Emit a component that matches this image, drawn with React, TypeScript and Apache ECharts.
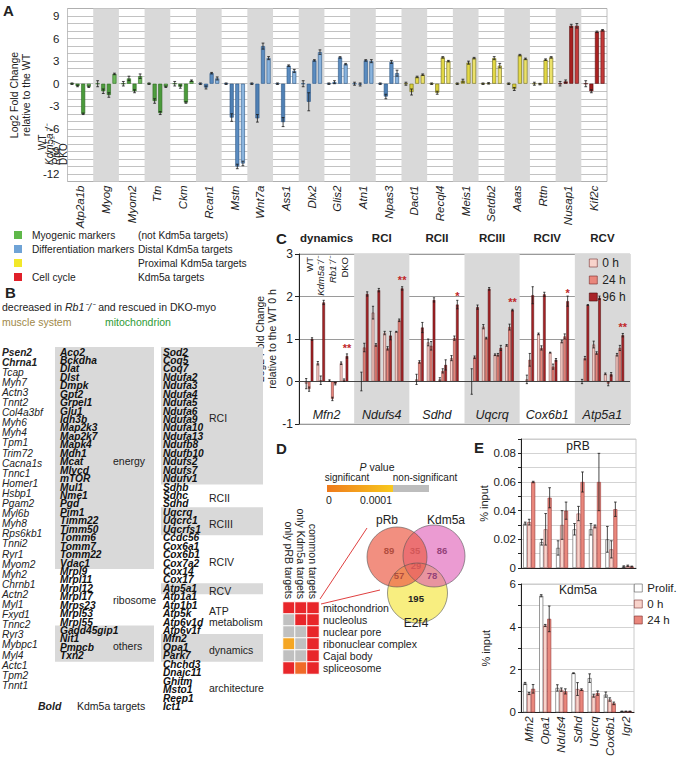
import React, { useEffect, useRef } from 'react';
import * as echarts from 'echarts';

const FONT = '"Liberation Sans", Arial, Helvetica, sans-serif';

// ===== Panel A =====
const genesA = ['Atp2a1b','Myog','Myom2','Ttn','Ckm','Rcan1','Mstn','Wnt7a','Ass1','Dlx2','Glis2','Atn1','Npas3','Dact1','Recql4','Meis1','Setdb2','Aaas','Rttn','Nusap1','Kif2c'];
const markerGroupA = [0,0,0,0,0,1,1,1,1,1,1,1,1,2,2,2,2,2,2,3,3];
const genotypes = ['WT','Kdm5a⁻/⁻','Rb1⁻/⁻','DKO'];
const aWT =    [0,0,0,0,0,0,0,0,0,0,0,0,0,0,0,0,0,0,0,0,0];
const aKdm5a = [-0.3,-1.0,0.7,-2.3,-0.4,-0.5,-4.5,-4.6,-5.1,-2.4,0.2,-0.1,-1.7,-1.1,-1.2,0.4,0.05,-0.7,-0.05,0.3,-1.0];
const aRb1 =   [-4.0,-1.5,-1.0,-3.9,-2.5,1.4,-11.0,5.0,2.4,3.1,3.5,3.1,2.9,0.9,3.5,2.8,3.4,3.8,3.2,7.7,6.9];
const aDKO =   [-0.4,1.3,1.0,-0.4,0.4,0.7,-10.6,3.4,1.7,4.2,2.6,3.0,1.4,1.2,3.0,3.4,2.4,3.3,3.5,7.7,7.1];
const aWTErr =    [0.1,0.4,0.3,0.1,0.3,0.1,0.1,0.1,0.1,0.4,0.1,0.2,0.1,0.2,0.1,0.1,0.1,0.1,0.2,0.3,0.4];
const aKdm5aErr = [0.1,0.3,0.3,0.3,0.2,0.2,0.5,0.5,0.6,1.2,0.2,0.2,0.3,0.4,0.2,0.2,0.1,0.2,0.1,0.2,0.2];
const aRb1Err =   [0.1,0.3,0.2,0.2,0.1,0.1,0.3,0.4,0.1,0.1,0.1,0.1,0.2,0.1,0.1,0.2,0.2,0.1,0.1,0.2,0.1];
const aDKOErr =   [0.1,0.1,0.3,0.1,0.1,0.2,0.3,0.2,0.2,0.3,0.1,0.2,0.4,0.1,0.1,0.1,0.3,0.1,0.1,0.3,0.1];
const legendAMarkers = ['Myogenic markers','Differentiation markers','','Cell cycle'];
const legendATargets = ['(not Kdm5a targets)','Distal Kdm5a targets','Proximal Kdm5a targets','Kdm5a targets'];

// ===== Panel B =====
const muscleGenes = ['Psen2','Chrna1','Tcap','Myh7','Actn3','Tnnt2','Col4a3bf','Myh6','Myh4','Tpm1','Trim72','Cacna1s','Tnnc1','Homer1','Hsbp1','Pgam2','Myl6b','Myh8','Rps6kb1','Tnni2','Ryr1','Myom2','Myh2','Chrnb1','Actn2','Myl1','Fxyd1','Tnnc2','Ryr3','Mybpc1','Myl4','Actc1','Tpm2','Tnnt1'];
const muscleBoldCount = 2;
const mitoCol2Groups = [
  { label: 'energy', genes: ['Aco2','Bckdha','Dlat','Dlst','Dmpk','Gpt2','Grpel1','Glu1','Idh3b','Map2k3','Map2k7','Mapk4','Mdh1','Mcat','Mlycd','mTOR','Mul1','Nme1','Pgd','Pim1','Timm22','Timm50','Tomm6','Tomm7','Tomm22','Vdac1'] },
  { label: 'ribosome', genes: ['Mrpl9','Mrpl11','Mrpl12','Mrpl17','Mrps23','Mrpl53','Mrpl55'] },
  { label: 'others', genes: ['Gadd45gip1','Nit1','Pmpcb','Txn2'] },
];
const mitoCol3Groups = [
  { label: 'RCI', genes: ['Sod2','Coq5','Coq7','Ndufa2','Ndufa3','Ndufa4','Ndufa5','Ndufa6','Ndufa9','Ndufa10','Ndufa13','Ndufb8','Ndufb10','Ndufs2','Ndufs7','Ndufv1'] },
  { label: 'RCII', genes: ['Sdhb','Sdhc','Sdhd'] },
  { label: 'RCIII', genes: ['Uqcrq','Uqcrc1','Uqcrfs1'] },
  { label: 'RCIV', genes: ['Ccdc56','Cox6a1','Cox6b1','Cox7a2','Cox14','Cox17'] },
  { label: 'RCV', genes: ['Atp5a1'] },
  { label: 'ATP\nmetabolism', genes: ['Atp1a1','Atp1b1','Atp5k','Atp6v1d','Atp6v1f'] },
  { label: 'dynamics', genes: ['Mfn2','Opa1','Park7'] },
  { label: 'architecture', genes: ['Chchd3','Dnajc11','Ghitm','Msto1','Reep1','Ict1'] },
];

// ===== Panel C =====
const genesC = ['Mfn2','Ndufs4','Sdhd','Uqcrq','Cox6b1','Atp5a1'];
const groupsC = ['dynamics','RCI','RCII','RCIII','RCIV','RCV'];
const timesC = ['0 h','24 h','96 h'];
const cWT_0h   = [-0.05,0.0,0.05,0.0,0.05,0.0];
const cWT_24h  = [-0.18,0.8,0.46,0.57,0.51,0.55];
const cWT_96h  = [1.0,2.06,1.27,1.75,2.03,1.8];
const cKdm_0h  = [0.43,1.62,0.92,1.29,1.12,0.87];
const cKdm_24h = [0.03,0.86,0.84,1.02,0.79,0.67];
const cKdm_96h = [1.86,2.15,1.92,2.18,2.05,1.97];
const cRb_0h   = [0.02,1.14,0.05,0.63,0.68,0.18];
const cRb_24h  = [-0.41,0.78,0.25,0.63,0.35,-0.05];
const cRb_96h  = [-0.05,1.08,0.39,0.79,0.51,0.17];
const cDKO_0h  = [0.43,1.17,0.55,0.85,0.94,0.63];
const cDKO_24h = [0.03,1.44,1.02,1.28,1.06,0.79];
const cDKO_96h = [0.6,2.19,1.81,1.68,1.89,1.09];
const cWT_0hErr   = [0.12,0.22,0.12,0.3,0.1,0.05];
const cWT_24hErr  = [0.05,0.1,0.03,0.03,0.15,0.04];
const cWT_96hErr  = [0.03,0.05,0.12,0.05,0.2,0.01];
const cKdm_0hErr  = [0.04,0.15,0.08,0.05,0.02,0.08];
const cKdm_24hErr = [0.1,0.03,0.1,0.02,0.05,0.03];
const cKdm_96hErr = [0.05,0.04,0.05,0.03,0.05,0.04];
const cRb_0hErr   = [0.02,0.04,0.04,0.02,0.01,0.02];
const cRb_24hErr  = [0.04,0.04,0.05,0.03,0.06,0.05];
const cRb_96hErr  = [0.03,0.1,0.12,0.06,0.03,0.04];
const cDKO_0hErr  = [0.03,0.01,0.06,0.02,0.03,0.03];
const cDKO_24hErr = [0.03,0.03,0.05,0.07,0.06,0.06];
const cDKO_96hErr = [0.05,0.04,0.1,0.02,0.12,0.04];
const starsC = ['**','**','*','**','*','**'];

// ===== Panel D =====
const heatCols = ['only pRB targets','only Kdm5a targets','common targets'];
const heatRows = ['mitochondrion','nucleolus','nuclear pore','ribonuclear complex','Cajal body','spliceosome'];
// significance level: 3 strongest (red) ... 1 near 0.0001 (orange-yellow), 0 non-significant (grey)
const heatOnlyPRB = [3,0,0,1,0,3];
const heatOnlyKdm5a = [3,3,0,0,0,2];
const heatCommon = [3,3,3,3,3,3];
const vennSets = ['pRb','Kdm5a','E2f4'];
// pRb only, Kdm5a only, E2f4 only, pRb&Kdm5a, pRb&E2f4, Kdm5a&E2f4, all three
const vennCounts = [89,86,195,35,57,78,29];

// ===== Panel E =====
const genesE = ['Mfn2','Opa1','Ndufs4','Sdhd','Uqcrq','Cox6b1','Igr2'];
const condE = ['Prolif.','0 h','24 h'];
const pRbProlif = [0.031,0.018,0.014,0.027,0.027,0.020,0.001];
const pRb0h     = [0.032,0.027,0.030,0.038,0.029,0.013,0.0015];
const pRb24h    = [0.060,0.049,0.040,0.060,0.060,0.041,0.001];
const pRbProlifErr = [0.001,0.002,0.005,0.004,0.004,0.009,0.0005];
const pRb0hErr     = [0.002,0.011,0.010,0.005,0.001,0.006,0.0005];
const pRb24hErr    = [0.0005,0.007,0.006,0.007,0.02,0.005,0.0003];
const kdmProlif = [1.35,5.45,1.14,1.83,1.6,0.83,0.05];
const kdm0h     = [0.88,4.06,1.06,1.09,0.78,0.6,0.05];
const kdm24h    = [1.1,4.37,0.98,1.06,0.9,0.42,0.05];
const kdmProlifErr = [0.05,0.05,0.15,0.02,0.2,0.12,0.01];
const kdm0hErr     = [0.05,0.05,0.08,0.3,0.07,0.08,0.01];
const kdm24hErr    = [0.2,0.6,0.12,0.04,0.1,0.06,0.01];

// ===== styles =====
const groupFillA = [
  ['#7cc46a','#4f9e3e','#4a9a3a','#6cb85a'],
  ['#8fb8e0','#4f80b4','#5b8cc0','#8ab4de'],
  ['#efe45a','#d9cf3a','#e2d845','#ece26a'],
  ['#c03030','#9e1c1c','#a82020','#c43a3a'],
];
const groupBorderA = ['#2d6a22','#2a5686','#6e6a1c','#5a0e0e'];
const legendColorsA = ['#5fb84a','#6fa3d6','#f2e82a','#e0202a'];
const cFill = ['#f8d3cb','#e9877c','#a82428'];
const cBorder = ['#7a3030','#7a2a2a','#4a0c0c'];
const eFill = ['#ffffff','#f8d3cb','#e9877c'];
const eBorder = ['#555555','#a05050','#9a3a3a'];

function errorSeries(xAxisIndex: number, yAxisIndex: number, items: number[][], step: number, nSlots: number, cap: number) {
  return {
    type: 'custom', xAxisIndex, yAxisIndex, silent: true, z: 5,
    data: items,
    encode: { x: 0, y: 2 },
    renderItem: (_p: any, api: any) => {
      const cat = api.value(0) as number;
      const slot = api.value(1) as number;
      const v = api.value(2) as number;
      const e = api.value(3) as number;
      const base = api.coord([cat, v]);
      const x = base[0] + (slot - (nSlots - 1) / 2) * step;
      const y1 = api.coord([cat, v + e])[1];
      const y2 = api.coord([cat, v - e])[1];
      const st = { stroke: '#1a1a1a', lineWidth: 0.8 };
      return {
        type: 'group',
        children: [
          { type: 'line', shape: { x1: x, y1, x2: x, y2 }, style: st },
          { type: 'line', shape: { x1: x - cap, y1, x2: x + cap, y2: y1 }, style: st },
          { type: 'line', shape: { x1: x - cap, y1: y2, x2: x + cap, y2 }, style: st },
        ],
      };
    },
  };
}

function T(x: number, y: number, text: string, o: any = {}) {
  return {
    type: 'text', x, y, rotation: o.rotation || 0, z: 100, silent: true,
    style: {
      text,
      fill: o.fill || '#222',
      fontSize: o.size || 10.5,
      fontStyle: o.italic ? 'italic' : 'normal',
      fontWeight: o.bold ? 'bold' : 'normal',
      fontFamily: FONT,
      textAlign: o.align || 'left',
      textVerticalAlign: o.valign || 'middle',
      align: o.align || 'left',
      verticalAlign: o.valign || 'middle',
      rich: o.rich,
      lineHeight: o.lineHeight,
    },
  };
}

function buildOption() {
  const series: any[] = [];
  const graphic: any[] = [];

  // ---------- Panel A ----------
  const aVals = [aWT, aKdm5a, aRb1, aDKO];
  const aErrs = [aWTErr, aKdm5aErr, aRb1Err, aDKOErr];
  aVals.forEach((vals, s) => {
    series.push({
      type: 'bar', name: 'A-' + genotypes[s], xAxisIndex: 0, yAxisIndex: 0,
      barWidth: 4, barGap: '40%',
      data: vals.map((v, i) => ({
        value: v,
        itemStyle: { color: groupFillA[markerGroupA[i]][s], borderColor: groupBorderA[markerGroupA[i]], borderWidth: 0.6 },
      })),
    });
  });
  const aErrItems: number[][] = [];
  aVals.forEach((vals, s) => vals.forEach((v, i) => aErrItems.push([i, s, v, aErrs[s][i]])));
  series.push(errorSeries(0, 0, aErrItems, 5.6, 4, 1.4));

  // ---------- Panel C ----------
  const cVals = [[cWT_0h, cWT_24h, cWT_96h], [cKdm_0h, cKdm_24h, cKdm_96h], [cRb_0h, cRb_24h, cRb_96h], [cDKO_0h, cDKO_24h, cDKO_96h]];
  const cErrs = [[cWT_0hErr, cWT_24hErr, cWT_96hErr], [cKdm_0hErr, cKdm_24hErr, cKdm_96hErr], [cRb_0hErr, cRb_24hErr, cRb_96hErr], [cDKO_0hErr, cDKO_24hErr, cDKO_96hErr]];
  const cErrItems: number[][] = [];
  cVals.forEach((gv, g) => {
    gv.forEach((vals, t) => {
      const s: any = {
        type: 'bar', name: timesC[t], xAxisIndex: 1, yAxisIndex: 1,
        barWidth: 2.6, barGap: '12%', data: vals,
        itemStyle: { color: cFill[t], borderColor: cBorder[t], borderWidth: 0.5 },
      };
      if (g === 0 && t === 0) {
        s.markLine = { silent: true, symbol: 'none', label: { show: false }, lineStyle: { color: '#444', width: 1.2, type: 'solid' }, data: [{ yAxis: 0 }] };
      }
      if (g === 3 && t === 2) {
        s.label = { show: true, position: 'top', distance: 3, formatter: (p: any) => starsC[p.dataIndex], color: '#c0282a', fontSize: 11, fontWeight: 'bold', fontFamily: FONT };
      }
      series.push(s);
      vals.forEach((v, i) => cErrItems.push([i, g * 4 + t, v, cErrs[g][t][i]]));
    });
    if (g < 3) {
      series.push({ type: 'bar', name: 'spacer' + g, xAxisIndex: 1, yAxisIndex: 1, barWidth: 2.6, barGap: '12%', silent: true, data: genesC.map(() => '-') });
    }
  });
  series.push(errorSeries(1, 1, cErrItems, 2.6 * 1.12, 15, 1.1));

  // ---------- Panel E ----------
  const eTop = [pRbProlif, pRb0h, pRb24h];
  const eTopErr = [pRbProlifErr, pRb0hErr, pRb24hErr];
  const eBot = [kdmProlif, kdm0h, kdm24h];
  const eBotErr = [kdmProlifErr, kdm0hErr, kdm24hErr];
  const eTopItems: number[][] = [];
  const eBotItems: number[][] = [];
  eTop.forEach((vals, s) => {
    series.push({ type: 'bar', name: condE[s], xAxisIndex: 3, yAxisIndex: 2, barWidth: 4, barGap: '0%', data: vals, itemStyle: { color: eFill[s], borderColor: eBorder[s], borderWidth: 0.6 } });
    vals.forEach((v, i) => eTopItems.push([i, s, v, eTopErr[s][i]]));
  });
  eBot.forEach((vals, s) => {
    series.push({ type: 'bar', name: condE[s], xAxisIndex: 4, yAxisIndex: 3, barWidth: 4, barGap: '0%', data: vals, itemStyle: { color: eFill[s], borderColor: eBorder[s], borderWidth: 0.6 } });
    vals.forEach((v, i) => eBotItems.push([i, s, v, eBotErr[s][i]]));
  });
  series.push(errorSeries(3, 2, eTopItems, 4, 3, 1.3));
  series.push(errorSeries(4, 3, eBotItems, 4, 3, 1.3));

  // ---------- Panel D heatmap ----------
  const heatCols3 = [heatOnlyPRB, heatOnlyKdm5a, heatCommon];
  const heatData: number[][] = [];
  heatCols3.forEach((col, c) => col.forEach((lv, r) => heatData.push([c, r, lv])));
  const heatIdx = series.length;
  series.push({ type: 'heatmap', xAxisIndex: 5, yAxisIndex: 4, data: heatData, itemStyle: { borderColor: '#ffffff', borderWidth: 1 }, silent: true });

  // ---------- Graphics ----------
  graphic.push(T(3, 10, 'A', { bold: true, size: 15 }));
  graphic.push(T(5, 292, 'B', { bold: true, size: 15 }));
  graphic.push(T(276, 238, 'C', { bold: true, size: 15 }));
  graphic.push(T(276, 448, 'D', { bold: true, size: 15 }));
  graphic.push(T(474, 447, 'E', { bold: true, size: 15 }));

  // Panel A genotype labels (reading upwards)
  const aLabelX = [42, 49, 56, 63];
  genotypes.forEach((g, s) => {
    graphic.push(T(aLabelX[s], s === 0 ? 150 : 165, g, { rotation: Math.PI / 2, size: 10, italic: s === 1 || s === 2 }));
  });

  // Panel A legend
  legendAMarkers.forEach((m, i) => {
    const y = 235 + i * 14;
    graphic.push({ type: 'rect', shape: { x: 14, y: y - 4, width: 8, height: 8 }, style: { fill: legendColorsA[i] }, z: 100 });
    if (m) graphic.push(T(32, y, m, { size: 10.2 }));
    graphic.push(T(138, y, legendATargets[i], { size: 10.2 }));
  });

  // Panel B
  graphic.push(T(2, 307, '{n|decreased in }{i|Rb1⁻/⁻}{n| and rescued in DKO-myo}', {
    rich: { n: { fontSize: 10.5, fontFamily: FONT }, i: { fontSize: 10.5, fontStyle: 'italic', fontFamily: FONT } },
  }));
  graphic.push(T(2, 322, 'muscle system', { fill: '#a08848' }));
  graphic.push(T(105, 322, 'mitochondrion', { fill: '#2e9a35' }));
  muscleGenes.forEach((g, i) => {
    graphic.push(T(2, 352 + i * 10.1, g, { italic: true, bold: i < muscleBoldCount, size: 10.2 }));
  });
  const rowH = 8.44;
  const drawCol = (groups: any[], x: number, boxX: number, boxW: number, labelX: number) => {
    let idx = 0;
    groups.forEach((grp, gi) => {
      const first = idx;
      const last = idx + grp.genes.length - 1;
      if (gi % 2 === 0) {
        graphic.push({ type: 'rect', z: 90, silent: true, shape: { x: boxX, y: 352 + first * rowH - 5, width: boxW, height: (last - first) * rowH + 11 }, style: { fill: '#d9d9d9' } });
      }
      grp.genes.forEach((g: string) => {
        graphic.push(T(x, 352 + idx * rowH, g, { italic: true, bold: true, size: 10.2, fill: '#111' }));
        idx++;
      });
      const mid = 352 + ((first + last) / 2) * rowH + 3;
      graphic.push(T(labelX, mid, grp.label, { size: 10.5, lineHeight: 11 }));
    });
  };
  drawCol(mitoCol2Groups, 60, 55, 99, 113);
  drawCol(mitoCol3Groups, 163, 161, 102, 209);
  graphic.push(T(38, 706, 'Bold', { italic: true, bold: true, size: 10.5 }));
  graphic.push(T(77, 706, 'Kdm5a targets', { size: 10.5 }));

  // Panel C genotype labels
  const cCenter = 299 + 331 / 6 / 2;
  genotypes.forEach((g, gi) => {
    graphic.push(T(cCenter + (gi * 4 + 1 - 7) * 2.912, 257, g, { rotation: Math.PI / 2, align: 'right', size: 9.5, italic: gi === 1 || gi === 2 }));
  });

  // Panel D legend
  graphic.push(T(377, 467, '{i|P} {n|value}', { align: 'center', rich: { i: { fontStyle: 'italic', fontSize: 10.5, fontFamily: FONT }, n: { fontSize: 10.5, fontFamily: FONT } } }));
  graphic.push(T(347, 477, 'significant', { align: 'center', size: 10 }));
  graphic.push(T(425, 477, 'non-significant', { align: 'center', size: 10 }));
  graphic.push({ type: 'rect', z: 100, shape: { x: 327, y: 485, width: 66, height: 7 }, style: { fill: new echarts.graphic.LinearGradient(0, 0, 1, 0, [{ offset: 0, color: '#ef7a1c' }, { offset: 1, color: '#f8c91e' }]) } });
  graphic.push({ type: 'rect', z: 100, shape: { x: 393, y: 485, width: 36, height: 7 }, style: { fill: '#bdbdbd' } });
  graphic.push(T(329, 500, '0', { align: 'center' }));
  graphic.push(T(376, 500, '0.0001', { align: 'center' }));
  graphic.push({ type: 'line', z: 100, shape: { x1: 320, y1: 599, x2: 367, y2: 528 }, style: { stroke: '#e04040', lineWidth: 1 } });
  graphic.push({ type: 'line', z: 100, shape: { x1: 321, y1: 604, x2: 380, y2: 590 }, style: { stroke: '#e04040', lineWidth: 1 } });
  const circ = [
    { cx: 397, cy: 557, r: 30 },
    { cx: 434, cy: 556, r: 31 },
    { cx: 417.5, cy: 593, r: 30 },
  ];
  graphic.push({ type: 'circle', z: 100, shape: circ[2], style: { fill: '#f8ee80' } });
  graphic.push({ type: 'circle', z: 101, shape: circ[1], style: { fill: 'rgba(222,88,180,0.6)' } });
  graphic.push({ type: 'circle', z: 102, shape: circ[0], style: { fill: 'rgba(236,96,74,0.7)' } });
  circ.forEach((c) => graphic.push({ type: 'circle', z: 103, shape: c, style: { fill: 'none', stroke: '#555', lineWidth: 0.6 } }));
  graphic.push(T(387, 520, vennSets[0], { align: 'center', size: 12 }));
  graphic.push(T(446, 520, vennSets[1], { align: 'center', size: 12 }));
  graphic.push(T(416, 623, vennSets[2], { align: 'center', size: 12 }));
  const vennPos = [[389, 550], [442, 550], [416, 598], [415, 550], [399, 575], [432, 575], [416, 565]];
  vennCounts.forEach((n, i) => graphic.push(T(vennPos[i][0], vennPos[i][1], String(n), { align: 'center', bold: true, size: 9.5, fill: '#222' })));

  // Panel E titles
  graphic.push(T(578, 446, 'pRB', { align: 'center', size: 12 }));
  graphic.push(T(578, 590, 'Kdm5a', { align: 'center', size: 12 }));

  const axisTxt = { fontFamily: FONT, color: '#222' };

  return {
    animation: false,
    backgroundColor: '#ffffff',
    textStyle: { fontFamily: FONT },
    grid: [
      { left: 40.5, top: 8.5, width: 566.5, height: 173, show: true, borderColor: '#b0b0b0', borderWidth: 0.8, backgroundColor: 'rgba(0,0,0,0)' },
      { left: 299, top: 254, width: 331, height: 170, show: true, borderColor: '#b0b0b0', borderWidth: 0.8, backgroundColor: 'rgba(0,0,0,0)' },
      { left: 521, top: 439, width: 115, height: 129, show: true, borderColor: '#bdbdbd', borderWidth: 0.8, backgroundColor: 'rgba(0,0,0,0)' },
      { left: 521, top: 584, width: 113, height: 129, show: true, borderColor: '#bdbdbd', borderWidth: 0.8, backgroundColor: 'rgba(0,0,0,0)' },
      { left: 283, top: 602, width: 36, height: 72 },
    ],
    xAxis: [
      { gridIndex: 0, type: 'category', data: genesA, axisLine: { show: false }, axisTick: { show: false },
        axisLabel: { ...axisTxt, interval: 0, rotate: 90, fontStyle: 'italic', fontSize: 11.5, margin: 4 },
        splitArea: { show: true, interval: 0, areaStyle: { color: ['rgba(255,255,255,0)', '#d9d9d9'] } } },
      { gridIndex: 1, type: 'category', data: genesC, position: 'bottom', axisLine: { show: false }, axisTick: { show: false },
        axisLabel: { ...axisTxt, inside: true, interval: 0, fontStyle: 'italic', fontSize: 12.5, margin: 3 },
        splitArea: { show: true, interval: 0, areaStyle: { color: ['rgba(255,255,255,0)', '#d9d9d9'] } } },
      { gridIndex: 1, type: 'category', data: groupsC, position: 'top', axisLine: { show: false }, axisTick: { show: false },
        axisLabel: { ...axisTxt, interval: 0, fontWeight: 'bold', fontSize: 11.5, margin: 10 } },
      { gridIndex: 2, type: 'category', data: genesE, axisLine: { lineStyle: { color: '#222' } }, axisTick: { show: false }, axisLabel: { show: false } },
      { gridIndex: 3, type: 'category', data: genesE, axisLine: { lineStyle: { color: '#222' } }, axisTick: { show: false },
        axisLabel: { ...axisTxt, interval: 0, rotate: 90, fontStyle: 'italic', fontSize: 11.5, margin: 4 } },
      { gridIndex: 4, type: 'category', data: heatCols, position: 'top', axisLine: { show: false }, axisTick: { show: false },
        axisLabel: { ...axisTxt, interval: 0, rotate: 90, fontSize: 10.5, margin: 3 } },
    ],
    yAxis: [
      { gridIndex: 0, type: 'value', min: -13, max: 10, interval: 1, axisLine: { show: false }, axisTick: { show: false },
        axisLabel: { ...axisTxt, fontSize: 11.5, margin: 8, formatter: (v: number) => (v % 3 === 0 ? String(v) : '') },
        splitLine: { lineStyle: { color: '#a8a8a8', width: 0.7 } },
        name: 'Log2 Fold Change\nrelative to the WT', nameLocation: 'middle', nameRotate: 90, nameGap: 22,
        nameTextStyle: { ...axisTxt, fontSize: 10.5, lineHeight: 12 } },
      { gridIndex: 1, type: 'value', min: -1, max: 3, interval: 1, axisLine: { show: true, lineStyle: { color: '#222' } }, axisTick: { show: true, length: 4, lineStyle: { color: '#222' } },
        axisLabel: { ...axisTxt, fontSize: 12, margin: 6 },
        splitLine: { lineStyle: { color: '#9a9a9a', width: 1 } },
        name: 'Log2 Fold Change\nrelative to the WT 0 h', nameLocation: 'middle', nameRotate: 90, nameGap: 20,
        nameTextStyle: { ...axisTxt, fontSize: 10.5, lineHeight: 12 } },
      { gridIndex: 2, type: 'value', min: 0, max: 0.09, interval: 0.01, axisLine: { show: true, lineStyle: { color: '#222' } }, axisTick: { show: true, length: 3, lineStyle: { color: '#222' } },
        axisLabel: { ...axisTxt, fontSize: 11.5, margin: 5, formatter: (v: number) => { const k = Math.round(v * 100); return k % 2 === 0 ? (k === 0 ? '0' : (k / 100).toFixed(2)) : ''; } },
        splitLine: { lineStyle: { color: '#c8c8c8', width: 0.8 } },
        name: '% input', nameLocation: 'middle', nameRotate: 90, nameGap: 30, nameTextStyle: { ...axisTxt, fontSize: 11 } },
      { gridIndex: 3, type: 'value', min: 0, max: 6, interval: 1, axisLine: { show: true, lineStyle: { color: '#222' } }, axisTick: { show: true, length: 3, lineStyle: { color: '#222' } },
        axisLabel: { ...axisTxt, fontSize: 11.5, margin: 5, formatter: (v: number) => (v % 2 === 0 ? String(v) : '') },
        splitLine: { lineStyle: { color: '#c8c8c8', width: 0.8 } },
        name: '% input', nameLocation: 'middle', nameRotate: 90, nameGap: 30, nameTextStyle: { ...axisTxt, fontSize: 11 } },
      { gridIndex: 4, type: 'category', data: heatRows, inverse: true, position: 'right', axisLine: { show: false }, axisTick: { show: false },
        axisLabel: { ...axisTxt, interval: 0, fontSize: 10.5, margin: 4 } },
    ],
    visualMap: [{
      type: 'piecewise', show: false, seriesIndex: heatIdx, dimension: 2,
      pieces: [
        { value: 0, color: '#c0c0c0' },
        { value: 1, color: '#f5a623' },
        { value: 2, color: '#f06a28' },
        { value: 3, color: '#e8262a' },
      ],
    }],
    legend: [
      { left: 589, top: 257, orient: 'vertical', data: timesC, itemWidth: 8, itemHeight: 8, itemGap: 5, icon: 'rect', selectedMode: false,
        itemStyle: { borderWidth: 0.6 }, textStyle: { ...axisTxt, fontSize: 12 }, padding: 0 },
      { left: 634, top: 582, orient: 'vertical', data: condE, itemWidth: 8, itemHeight: 8, itemGap: 4, icon: 'rect', selectedMode: false,
        itemStyle: { borderWidth: 0.6 }, textStyle: { ...axisTxt, fontSize: 11.5 }, padding: 0 },
    ],
    series,
    graphic: { elements: graphic },
  };
}

export default function App() {
  const ref = useRef<HTMLDivElement>(null);
  useEffect(() => {
    if (!ref.current) return;
    const chart = echarts.init(ref.current, null, { renderer: 'svg' });
    chart.setOption(buildOption() as any);
    return () => chart.dispose();
  }, []);
  return <div ref={ref} style={{ position: 'absolute', left: 0, top: 0, width: 680, height: 759, background: '#fff' }} />;
}
